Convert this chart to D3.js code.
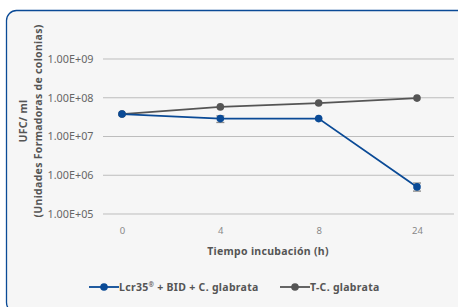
<!DOCTYPE html>
<html><head><meta charset="utf-8">
<script src="https://cdn.jsdelivr.net/npm/d3@7"></script>
<style>html,body{margin:0;padding:0;background:#fff;}svg{display:block;}</style>
</head><body>
<script>
const categories = ["0", "4", "8", "24"];
const seriesNames = [["Lcr35", "\u00AE", " + BID + C. glabrata"], ["T-C. glabrata", "", ""]];
const lcrValues = [3.8e7, 2.9e7, 2.9e7, 5.0e5];
const lcrErrLow = [3.8e7, 2.3e7, 2.9e7, 3.9e5];
const lcrErrHigh = [3.8e7, 3.4e7, 2.9e7, 6.3e5];
const tcgValues = [3.8e7, 5.8e7, 7.3e7, 9.8e7];
const yTicks = [1e5, 1e6, 1e7, 1e8, 1e9];
const yTickLabels = ["1.00E+05", "1.00E+06", "1.00E+07", "1.00E+08", "1.00E+09"];
const colors = ["#0a4a96", "#555555"];

const W = 458, H = 307;
const svg = d3.select("body").append("svg").attr("width", W).attr("height", H);
svg.append("rect").attr("x", 6.5).attr("y", 10.5).attr("width", 462).attr("height", 302)
  .attr("rx", 10).attr("fill", "#f6f6f6").attr("stroke", "#0a4a96").attr("stroke-width", 1.3);

const x = d3.scalePoint().domain(categories).range([122, 417]);
const y = d3.scaleLog().domain([1e5, 1e9]).range([214, 59]);
const font = "'Noto Sans', sans-serif";

// grid
svg.append("g").selectAll("line").data(yTicks).join("line")
  .attr("x1", 103).attr("x2", 454)
  .attr("y1", d => y(d)).attr("y2", d => y(d))
  .attr("stroke", "#bdbdbd").attr("stroke-width", 1);

// y axis labels
const yAxis = d3.axisLeft(y).tickValues(yTicks).tickFormat((d, i) => yTickLabels[i]).tickSize(0).tickPadding(0);
const gy = svg.append("g").attr("transform", "translate(93.5,0)").call(yAxis);
gy.select(".domain").remove();
gy.selectAll("text").attr("font-family", font).attr("font-size", 10.8).attr("fill", "#666");

// x axis labels
const xAxis = d3.axisBottom(x).tickSize(0).tickPadding(0);
const gx = svg.append("g").attr("transform", "translate(0,227)").call(xAxis);
gx.select(".domain").remove();
gx.selectAll("text").attr("font-family", font).attr("font-size", 9.5).attr("fill", "#888");

// axis titles
svg.append("text").attr("x", 268).attr("y", 255).attr("text-anchor", "middle")
  .attr("font-family", font).attr("font-size", 10.5).attr("font-weight", "bold").attr("fill", "#555")
  .attr("letter-spacing", 0.3)
  .text("Tiempo incubación (h)");
const yt = svg.append("text").attr("transform", "translate(27,121) rotate(-90)").attr("text-anchor", "middle")
  .attr("font-family", font).attr("font-size", 10.5).attr("font-weight", "bold").attr("fill", "#555")
  .attr("letter-spacing", 0.3);
yt.append("tspan").attr("x", 0).attr("dy", 0).text("UFC/ ml");
yt.append("tspan").attr("x", 0).attr("dy", 14.5).text("(Unidades Formadoras de colonias)");

const line = d3.line().x((d, i) => x(categories[i])).y(d => y(d));

svg.append("path").datum(tcgValues).attr("d", line).attr("fill", "none")
  .attr("stroke", colors[1]).attr("stroke-width", 1.8);
svg.append("path").datum(lcrValues).attr("d", line).attr("fill", "none")
  .attr("stroke", colors[0]).attr("stroke-width", 1.8);

// error bars
const eb = svg.append("g").attr("stroke", "#8a8a8a").attr("stroke-width", 1.3);
categories.forEach((c, i) => {
  if (lcrErrHigh[i] === lcrErrLow[i]) return;
  const cx = x(c);
  eb.append("line").attr("x1", cx).attr("x2", cx).attr("y1", y(lcrErrHigh[i])).attr("y2", y(lcrErrLow[i]));
  eb.append("line").attr("x1", cx - 4).attr("x2", cx + 4).attr("y1", y(lcrErrHigh[i])).attr("y2", y(lcrErrHigh[i]));
  eb.append("line").attr("x1", cx - 4).attr("x2", cx + 4).attr("y1", y(lcrErrLow[i])).attr("y2", y(lcrErrLow[i]));
});

svg.append("g").selectAll("circle").data(tcgValues).join("circle")
  .attr("cx", (d, i) => x(categories[i])).attr("cy", d => y(d)).attr("r", 3.8).attr("fill", colors[1]);
svg.append("g").selectAll("circle").data(lcrValues).join("circle")
  .attr("cx", (d, i) => x(categories[i])).attr("cy", d => y(d)).attr("r", 3.8).attr("fill", colors[0]);

// legend
const legendX = [89, 280];
seriesNames.forEach((parts, i) => {
  const g = svg.append("g").attr("transform", `translate(${legendX[i]},287)`);
  g.append("line").attr("x1", 0).attr("x2", 30).attr("y1", 0).attr("y2", 0).attr("stroke", colors[i]).attr("stroke-width", 1.8);
  g.append("circle").attr("cx", 15).attr("cy", 0).attr("r", 3.8).attr("fill", colors[i]);
  const t = g.append("text").attr("x", 30).attr("y", 3.8).attr("font-family", font).attr("font-size", 10.5)
    .attr("font-weight", "bold").attr("fill", "#555").attr("letter-spacing", 0.3);
  t.append("tspan").text(parts[0]);
  if (parts[1]) t.append("tspan").attr("font-size", 6.5).attr("dy", -4).text(parts[1]);
  if (parts[2]) t.append("tspan").attr("dy", 4).text(parts[2]);
});
</script>
</body></html>
